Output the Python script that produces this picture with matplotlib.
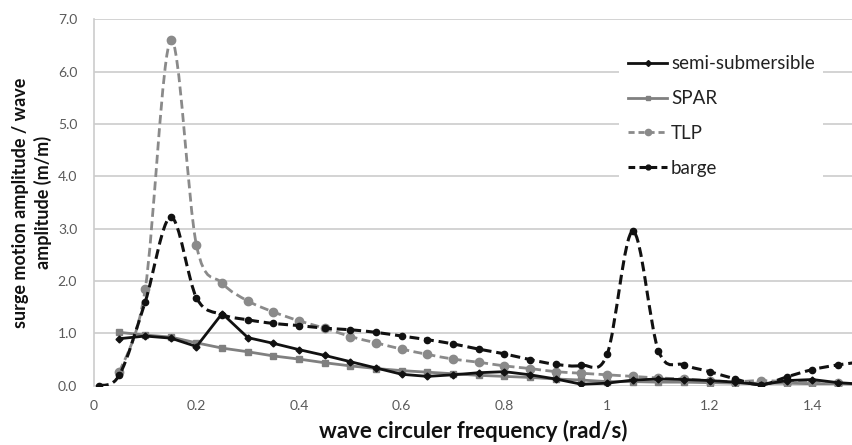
import numpy as np
import matplotlib
matplotlib.use("Agg")
import matplotlib.pyplot as plt
from matplotlib.path import Path
from matplotlib.patches import PathPatch
from matplotlib.lines import Line2D

plt.rcParams['font.family'] = ['Lato', 'DejaVu Sans']

# frequencies (rad/s)
freq = [0.05, 0.10, 0.15, 0.20, 0.25, 0.30, 0.35, 0.40, 0.45, 0.50,
        0.55, 0.60, 0.65, 0.70, 0.75, 0.80, 0.85, 0.90, 0.95, 1.00,
        1.05, 1.10, 1.15, 1.20, 1.25, 1.30, 1.35, 1.40, 1.45, 1.50]
freq_barge = [0.01] + freq

semi_sub = [0.90, 0.95, 0.91, 0.75, 1.38, 0.92, 0.81, 0.69, 0.58, 0.46,
            0.34, 0.22, 0.18, 0.21, 0.25, 0.27, 0.21, 0.13, 0.03, 0.05,
            0.11, 0.13, 0.12, 0.10, 0.07, 0.02, 0.10, 0.12, 0.06, 0.03]
spar = [1.02, 0.97, 0.93, 0.82, 0.72, 0.65, 0.57, 0.51, 0.44, 0.38,
        0.33, 0.29, 0.26, 0.23, 0.20, 0.18, 0.16, 0.13, 0.11, 0.08,
        0.08, 0.07, 0.07, 0.06, 0.05, 0.05, 0.05, 0.04, 0.04, 0.03]
tlp = [0.26, 1.84, 6.60, 2.68, 1.96, 1.62, 1.41, 1.24, 1.10, 0.94,
       0.82, 0.70, 0.60, 0.51, 0.45, 0.38, 0.33, 0.27, 0.24, 0.21,
       0.18, 0.15, 0.13, 0.10, 0.08, 0.10, 0.08, 0.07, 0.05, 0.03]
barge = [0.00, 0.21, 1.60, 3.22, 1.68, 1.36, 1.26, 1.19, 1.15, 1.10, 1.07,
         1.02, 0.95, 0.88, 0.80, 0.70, 0.61, 0.50, 0.41, 0.39, 0.60,
         2.95, 0.67, 0.40, 0.27, 0.13, 0.02, 0.17, 0.31, 0.40, 0.46]

xticks = [0, 0.2, 0.4, 0.6, 0.8, 1.0, 1.2, 1.4]
xticklabels = ['0', '0.2', '0.4', '0.6', '0.8', '1', '1.2', '1.4']
yticks = [0, 1, 2, 3, 4, 5, 6, 7]


def smooth_path(x, y):
    # Catmull-Rom style smoothing like Excel's "smoothed line", as cubic Beziers
    x = np.asarray(x, float)
    y = np.asarray(y, float)
    pts = np.column_stack([x, y])
    verts = [pts[0]]
    codes = [Path.MOVETO]
    n = len(pts)
    for i in range(n - 1):
        p0 = pts[i - 1] if i > 0 else pts[i]
        p1 = pts[i]
        p2 = pts[i + 1]
        p3 = pts[i + 2] if i + 2 < n else pts[i + 1]
        c1 = p1 + (p2 - p0) / 6.0
        c2 = p2 - (p3 - p1) / 6.0
        verts += [c1, c2, p2]
        codes += [Path.CURVE4] * 3
    return Path(verts, codes)


fig = plt.figure(figsize=(8.53, 4.45), dpi=100)
ax = fig.add_axes([0.110, 0.133, 0.89, 0.824])

grey_grid = '#cccccc'
ax.set_axisbelow(True)
ax.yaxis.grid(True, color=grey_grid, lw=1.2)

black = '#111111'
grey = '#808080'
grey_tlp = '#8a8a8a'
dash = (0, (3.2, 1.6))

ax.plot(freq, semi_sub, color=black, lw=2, marker='D', ms=3.5, zorder=4)
ax.plot(freq, spar, color=grey, lw=2, marker='s', ms=4.5, zorder=3)

ax.add_patch(PathPatch(smooth_path(freq, tlp), fill=False, edgecolor=grey_tlp,
                       lw=2, linestyle=dash, zorder=3))
ax.plot(freq, tlp, ls='none', color=grey_tlp, marker='o', ms=6, zorder=3)

ax.add_patch(PathPatch(smooth_path(freq_barge, barge), fill=False, edgecolor=black,
                       lw=2.2, linestyle=dash, zorder=5))
ax.plot(freq_barge, barge, ls='none', color=black, marker='o', ms=4.5, zorder=5)

ax.set_xlim(0, 1.479)
ax.set_ylim(0, 7)
ax.set_xticks(xticks)
ax.set_xticklabels(xticklabels)
ax.set_yticks(yticks)
ax.set_yticklabels(['%.1f' % v for v in yticks])
ax.tick_params(length=0, labelsize=10, labelcolor='#595959')
ax.tick_params(axis='y', pad=12)
ax.tick_params(axis='x', pad=10)

for s in ['top', 'right', 'bottom']:
    ax.spines[s].set_visible(False)
ax.spines['left'].set_color(grey_grid)
ax.spines['left'].set_linewidth(1.2)

ax.set_xlabel('wave circuler frequency (rad/s)', fontsize=16, fontweight='bold',
              color='#111111', labelpad=6)
ax.set_ylabel('surge motion amplitude / wave\namplitude (m/m)', fontsize=13,
              fontweight='bold', color='#111111', labelpad=4, linespacing=1.35)

handles = [
    Line2D([], [], color=black, lw=2, marker='D', ms=3),
    Line2D([], [], color=grey, lw=2, marker='s', ms=3.5),
    Line2D([], [], color=grey_tlp, lw=2, ls=(0, (2.2, 1.4)), marker='o', ms=4.5),
    Line2D([], [], color=black, lw=2.2, ls=(0, (2.2, 1.4)), marker='o', ms=3.5),
]
leg = ax.legend(handles, ['semi-submersible', 'SPAR', 'TLP', 'barge'],
                loc='upper left', bbox_to_anchor=(0.68, 0.95), fontsize=13.5,
                frameon=True, facecolor='white', edgecolor='none', framealpha=1,
                labelspacing=0.95, handlelength=2.1, handletextpad=0.2,
                borderpad=0.45, fancybox=False)
for t in leg.get_texts():
    t.set_color('#222222')

fig.savefig('out.png', dpi=100)
